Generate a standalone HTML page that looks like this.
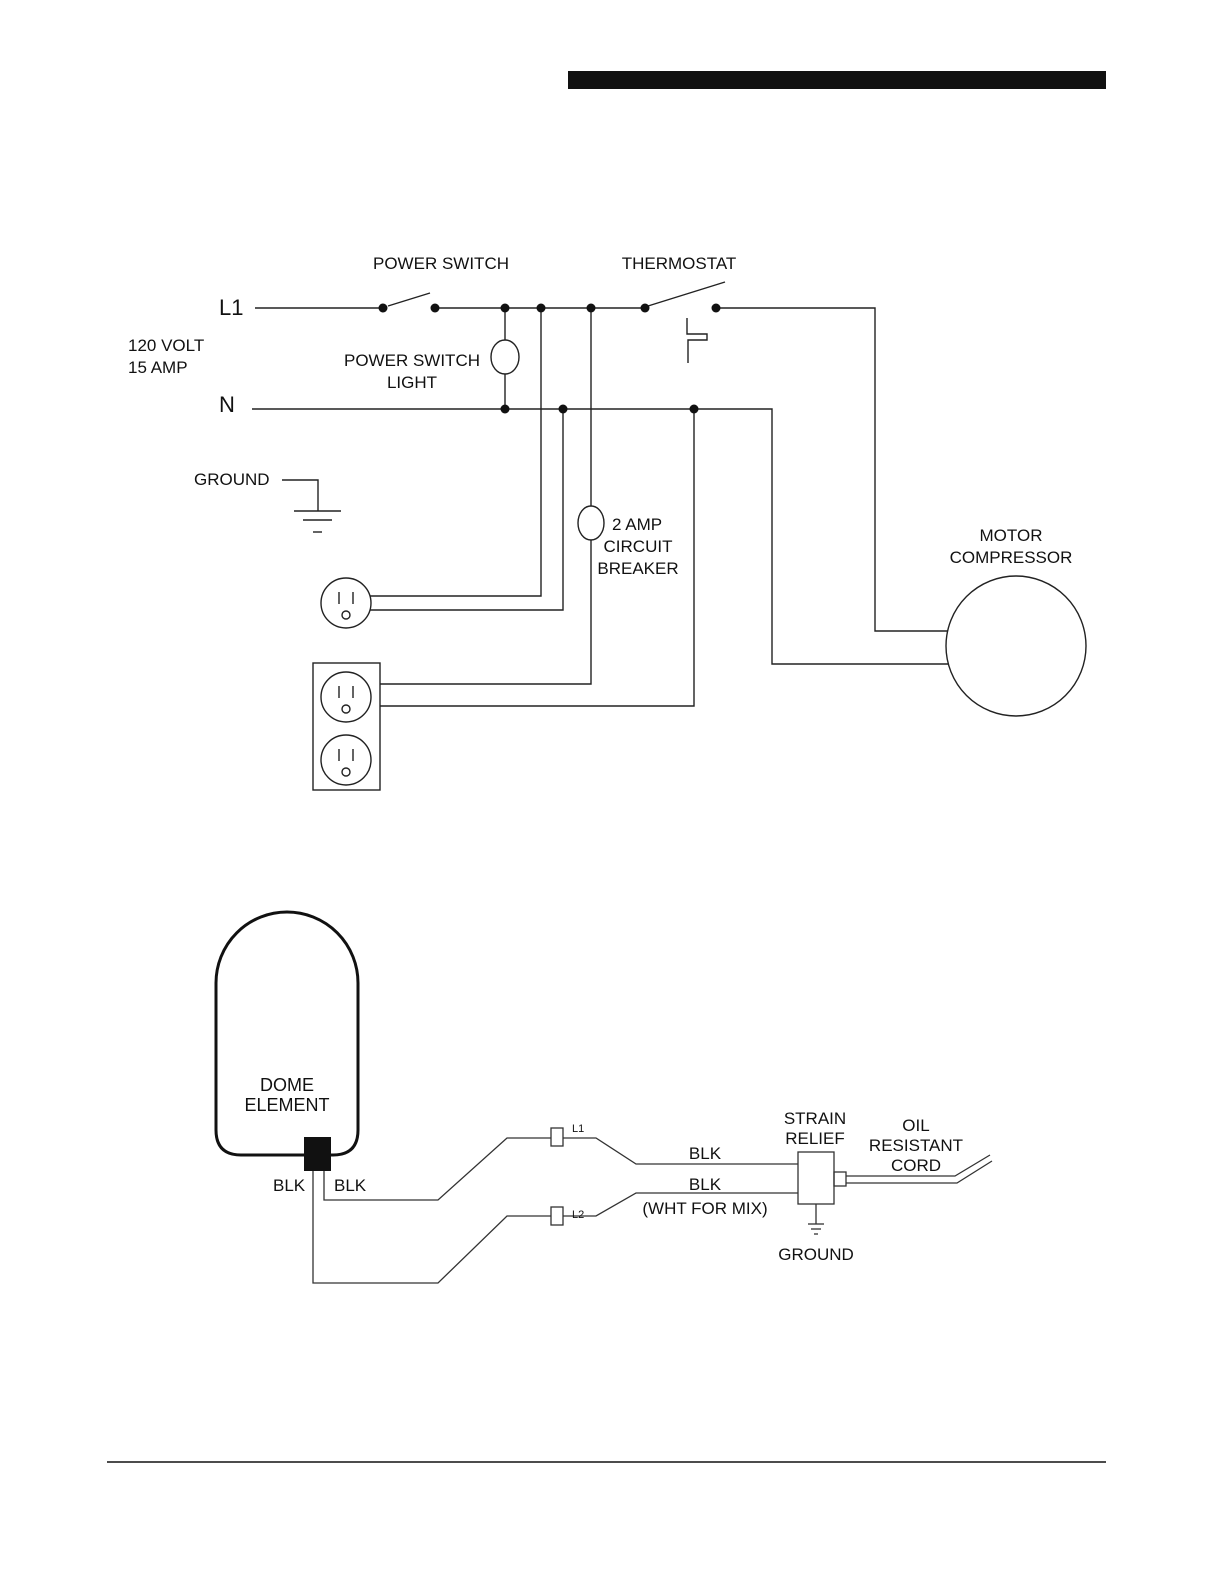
<!DOCTYPE html>
<html><head><style>html,body{margin:0;padding:0;background:#fff;overflow:hidden;width:1224px;height:1584px}svg{display:block}text{font-family:"Liberation Sans",sans-serif;fill:#111}</style></head>
<body>
<svg width="1224" height="1584" viewBox="0 0 1224 1584" xmlns="http://www.w3.org/2000/svg">
<rect x="568" y="71" width="538" height="18" fill="#111"/>
<line x1="107" y1="1462" x2="1106" y2="1462" stroke="#111" stroke-width="1.5"/>
<g stroke="#222" stroke-width="1.4" fill="none">
<line x1="255" y1="308" x2="383" y2="308"/>
<line x1="388" y1="306" x2="430" y2="293"/>
<line x1="435" y1="308" x2="645" y2="308"/>
<line x1="648" y1="306" x2="725" y2="282"/>
<polyline points="687,318 687,334 707,334 707,340 688,340 688,363"/>
<polyline points="716,308 875,308 875,631 948,631"/>
<polyline points="252,409 772,409 772,664 948,664"/>
<line x1="505" y1="308" x2="505" y2="340"/>
<line x1="505" y1="374" x2="505" y2="409"/>
<ellipse cx="505" cy="357" rx="14" ry="17"/>
<polyline points="541,308 541,596 370,596"/>
<polyline points="563,409 563,610 370,610"/>
<line x1="591" y1="308" x2="591" y2="506"/>
<ellipse cx="591" cy="523" rx="13" ry="17"/>
<polyline points="591,540 591,684 380,684"/>
<polyline points="694,409 694,706 380,706"/>
<circle cx="346" cy="603" r="25"/>
<rect x="313" y="663" width="67" height="127"/>
<circle cx="346" cy="697" r="25"/>
<circle cx="346" cy="760" r="25"/>
<line x1="339" y1="592" x2="339" y2="604"/><line x1="353" y1="592" x2="353" y2="604"/><circle cx="346" cy="615" r="4"/>
<line x1="339" y1="686" x2="339" y2="698"/><line x1="353" y1="686" x2="353" y2="698"/><circle cx="346" cy="709" r="4"/>
<line x1="339" y1="749" x2="339" y2="761"/><line x1="353" y1="749" x2="353" y2="761"/><circle cx="346" cy="772" r="4"/>
<circle cx="1016" cy="646" r="70"/>
<polyline points="282,480 318,480 318,511"/>
<line x1="294" y1="511" x2="341" y2="511"/><line x1="303" y1="520" x2="332" y2="520"/><line x1="313" y1="532" x2="322" y2="532"/>
</g>
<g fill="#111">
<circle cx="383" cy="308" r="4.5"/><circle cx="435" cy="308" r="4.5"/><circle cx="505" cy="308" r="4.5"/><circle cx="541" cy="308" r="4.5"/><circle cx="591" cy="308" r="4.5"/><circle cx="645" cy="308" r="4.5"/><circle cx="716" cy="308" r="4.5"/>
<circle cx="505" cy="409" r="4.5"/><circle cx="563" cy="409" r="4.5"/><circle cx="694" cy="409" r="4.5"/>
</g>
<text x="441" y="269" font-size="17" text-anchor="middle">POWER SWITCH</text>
<text x="679" y="269" font-size="17" text-anchor="middle">THERMOSTAT</text>
<text x="219" y="315" font-size="22">L1</text>
<text x="219" y="412" font-size="22">N</text>
<text x="128" y="351" font-size="17">120 VOLT</text>
<text x="128" y="373" font-size="17">15 AMP</text>
<text x="412" y="366" font-size="17" text-anchor="middle">POWER SWITCH</text>
<text x="412" y="388" font-size="17" text-anchor="middle">LIGHT</text>
<text x="194" y="485" font-size="17">GROUND</text>
<text x="612" y="530" font-size="17">2 AMP</text>
<text x="638" y="552" font-size="17" text-anchor="middle">CIRCUIT</text>
<text x="638" y="574" font-size="17" text-anchor="middle">BREAKER</text>
<text x="1011" y="541" font-size="17" text-anchor="middle">MOTOR</text>
<text x="1011" y="563" font-size="17" text-anchor="middle">COMPRESSOR</text>

<path d="M216,983 A71,71 0 0 1 358,983 L358,1130 Q358,1155 333,1155 L241,1155 Q216,1155 216,1130 Z" fill="none" stroke="#111" stroke-width="3"/>
<rect x="304" y="1137" width="27" height="34" fill="#111"/>
<g stroke="#333" stroke-width="1.3" fill="none">
<polyline points="324,1171 324,1200 438,1200 507,1138 551,1138"/>
<polyline points="313,1171 313,1283 438,1283 507,1216 551,1216"/>
<rect x="551" y="1128" width="12" height="18"/>
<rect x="551" y="1207" width="12" height="18"/>
<polyline points="563,1138 596,1138 636,1164 798,1164"/>
<polyline points="563,1216 596,1216 636,1193 798,1193"/>
<rect x="798" y="1152" width="36" height="52"/>
<rect x="834" y="1172" width="12" height="14"/>
<polyline points="846,1176 955,1176 990,1155"/>
<polyline points="846,1183 957,1183 992,1161"/>
<line x1="816" y1="1204" x2="816" y2="1224"/>
<line x1="808" y1="1224" x2="824" y2="1224"/><line x1="811" y1="1229" x2="821" y2="1229"/><line x1="814" y1="1234" x2="818" y2="1234"/>
</g>
<text x="287" y="1091" font-size="18" text-anchor="middle">DOME</text>
<text x="287" y="1111" font-size="18" text-anchor="middle">ELEMENT</text>
<text x="273" y="1191" font-size="17">BLK</text>
<text x="334" y="1191" font-size="17">BLK</text>
<text x="572" y="1132" font-size="11">L1</text>
<text x="572" y="1218" font-size="11">L2</text>
<text x="705" y="1159" font-size="17" text-anchor="middle">BLK</text>
<text x="705" y="1190" font-size="17" text-anchor="middle">BLK</text>
<text x="705" y="1214" font-size="17" text-anchor="middle">(WHT FOR MIX)</text>
<text x="815" y="1124" font-size="17" text-anchor="middle">STRAIN</text>
<text x="815" y="1144" font-size="17" text-anchor="middle">RELIEF</text>
<text x="916" y="1131" font-size="17" text-anchor="middle">OIL</text>
<text x="916" y="1151" font-size="17" text-anchor="middle">RESISTANT</text>
<text x="916" y="1171" font-size="17" text-anchor="middle">CORD</text>
<text x="816" y="1260" font-size="17" text-anchor="middle">GROUND</text>
</svg>
</body></html>
